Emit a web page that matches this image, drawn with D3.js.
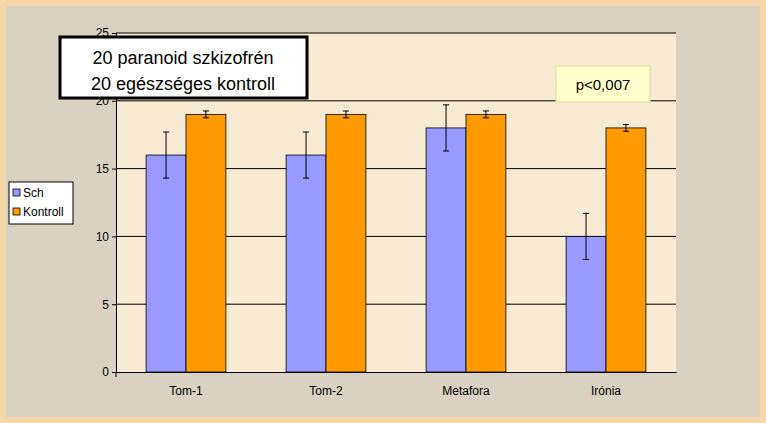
<!DOCTYPE html><html><head><meta charset="utf-8"><script src="https://d3js.org/d3.v7.min.js"></script>
<style>body{margin:0}svg{display:block;font-family:Arial,"Liberation Sans",sans-serif}</style></head><body><svg id="c" width="766" height="423"></svg><script>
const categories=["Tom-1","Tom-2","Metafora","Irónia"];
const schValues=[16,16,18,10];
const schErr=[1.7,1.7,1.7,1.7];
const kontrollValues=[19,19,19,18];
const kontrollErr=[0.25,0.25,0.25,0.25];
const yTicks=[0,5,10,15,20,25];
const svg=d3.select("#c");
svg.append("rect").attr("width",766).attr("height",423).attr("fill","#f6d8a8");
svg.append("rect").attr("x",6).attr("y",6).attr("width",754).attr("height",411).attr("fill","#d9d1c2");
const L=116,R=676,T=33,B=372;
svg.append("rect").attr("x",L).attr("y",T).attr("width",R-L).attr("height",B-T).attr("fill","#f7ebd3");
const x=d3.scaleBand().domain(categories).range([L,R]);
const y=d3.scaleLinear().domain([0,25]).range([B,T]);
yTicks.forEach(t=>{if(t>0)svg.append("line").attr("x1",L).attr("x2",R).attr("y1",y(t)).attr("y2",y(t)).attr("stroke","#000").attr("stroke-width",1);});
const bw=x.bandwidth()*0.285;
const series=[{v:schValues,e:schErr,c:"#9999ff",o:-1},{v:kontrollValues,e:kontrollErr,c:"#ff9900",o:0}];
series.forEach(s=>{categories.forEach((c,i)=>{
 const cx=x(c)+x.bandwidth()/2+s.o*bw;
 svg.append("rect").attr("x",cx).attr("y",y(s.v[i])).attr("width",bw).attr("height",B-y(s.v[i])).attr("fill",s.c).attr("stroke","#000").attr("stroke-width",0.8);
 const mx=cx+bw/2,y1=y(s.v[i]+s.e[i]),y2=y(s.v[i]-s.e[i]);
 svg.append("line").attr("x1",mx).attr("x2",mx).attr("y1",y1).attr("y2",y2).attr("stroke","#000");
 [y1,y2].forEach(yy=>svg.append("line").attr("x1",mx-3).attr("x2",mx+3).attr("y1",yy).attr("y2",yy).attr("stroke","#000"));
});});
const ya=svg.append("g").attr("transform",`translate(${L},0)`).call(d3.axisLeft(y).tickValues(yTicks).tickSize(4).tickFormat(d3.format("d")));
const xa=svg.append("g").attr("transform",`translate(0,${B})`).call(d3.axisBottom(x).tickSize(0).tickPadding(14));
[ya,xa].forEach(a=>{a.selectAll("text").attr("font-size",12).attr("fill","#000");a.selectAll("path,line").attr("stroke","#000");});
xa.selectAll(".tick").each(function(d){const px=x(d)+x.bandwidth();d3.select(this.parentNode).append("line").attr("x1",px).attr("x2",px).attr("y1",B).attr("y2",B+5).attr("stroke","#000");});
svg.append("line").attr("x1",L).attr("x2",L).attr("y1",B).attr("y2",B+5).attr("stroke","#000");
svg.append("rect").attr("x",60).attr("y",37).attr("width",247).attr("height",61).attr("fill","#fff").attr("stroke","#000").attr("stroke-width",3);
svg.append("text").attr("x",183).attr("y",64).attr("text-anchor","middle").attr("font-size",18).text("20 paranoid szkizofrén");
svg.append("text").attr("x",183).attr("y",90).attr("text-anchor","middle").attr("font-size",18).text("20 egészséges kontroll");
svg.append("rect").attr("x",556).attr("y",66).attr("width",94).attr("height",36).attr("fill","#ffffcc").attr("stroke","#e8d8a0").attr("stroke-width",1);
svg.append("text").attr("x",603).attr("y",90).attr("text-anchor","middle").attr("font-size",15).text("p<0,007");
svg.append("rect").attr("x",9).attr("y",182).attr("width",64).attr("height",42).attr("fill","#fff").attr("stroke","#000");
[["Sch","#9999ff"],["Kontroll","#ff9900"]].forEach((d,i)=>{
 svg.append("rect").attr("x",13).attr("y",189+i*19).attr("width",7).attr("height",7).attr("fill",d[1]).attr("stroke","#000").attr("stroke-width",0.8);
 svg.append("text").attr("x",23).attr("y",197+i*19).attr("font-size",12).text(d[0]);
});
</script></body></html>
